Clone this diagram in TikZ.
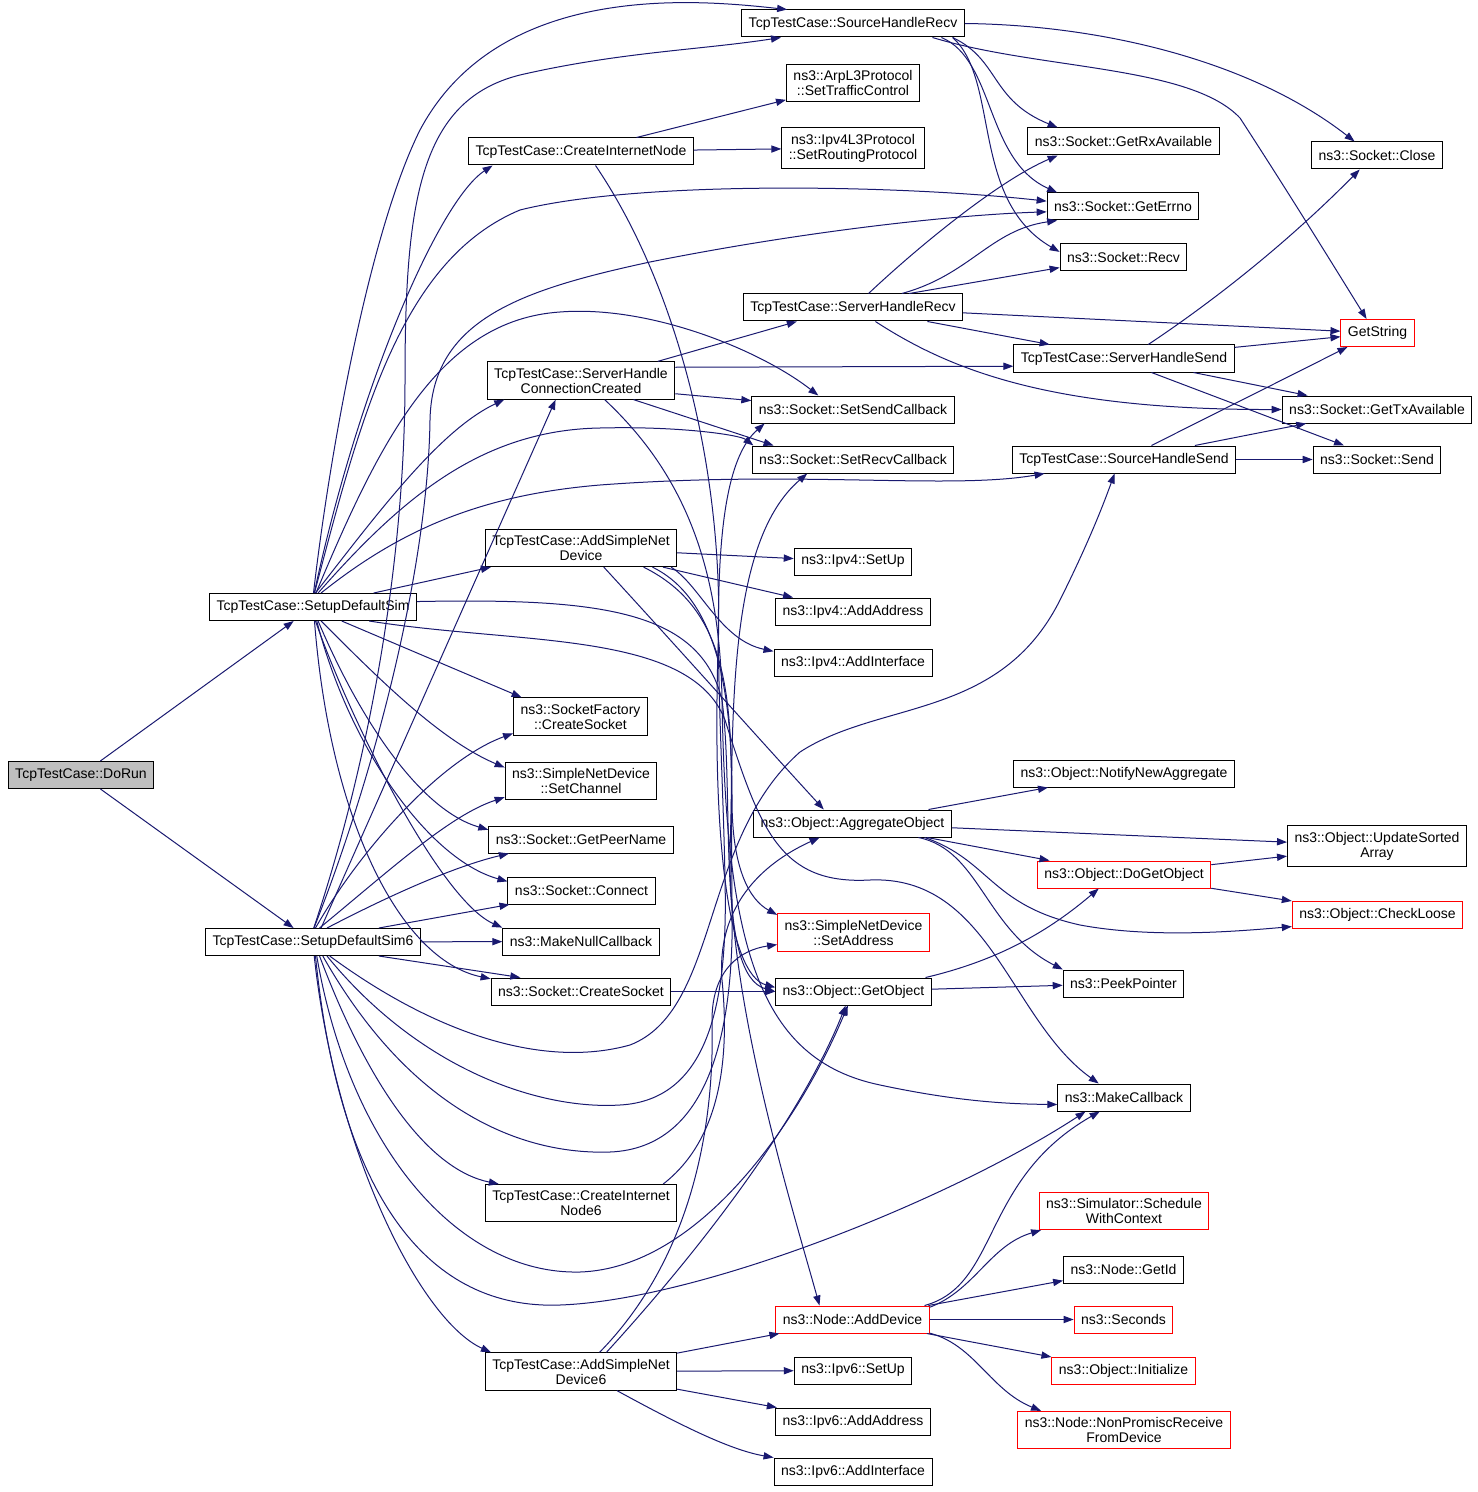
\documentclass[tikz,border=0pt]{standalone}
\usepackage{fontspec}
\setmainfont{Liberation Sans}
\usepackage{tikz}
\usetikzlibrary{arrows.meta}
\definecolor{edgeblue}{HTML}{191970}
\definecolor{rootgray}{HTML}{BFBFBF}
\newcommand{\fnsize}{\fontsize{7}{7.5}\selectfont}

\begin{document}
\begin{tikzpicture}[
        x=0.5pt, y=-0.5pt,
        % Styles
        fn/.style  ={rectangle, draw=black, line width=0.5pt, fill=white, align=center, inner xsep=3.5pt, inner ysep=3pt, minimum height=13.5pt, font=\fnsize},
        ext/.style ={fn, draw=red},
        root/.style={fn, fill=rootgray},
        call/.style={-{Triangle[length=5pt, width=3.6pt]}, draw=edgeblue, line width=0.5pt}
    ]
    \path[use as bounding box, fill=white] (0,0) rectangle (1477,1492);

    % Root and the two setups
    \node[root] (DoRun) at (81,775) {TcpTestCase::DoRun};
    \node[fn] (SetupSim) at (313,607) {TcpTestCase::SetupDefaultSim};
    \node[fn] (SetupSim6) at (313,942) {TcpTestCase::SetupDefaultSim6};

    % Second column
    \node[fn] (InetNode) at (581,151.5) {TcpTestCase::CreateInternetNode};
    \node[fn] (ConnCreated) at (581,380.5) {TcpTestCase::ServerHandle\\ConnectionCreated};
    \node[fn] (AddDev) at (581,548) {TcpTestCase::AddSimpleNet\\Device};
    \node[fn] (FactCreate) at (580.5,716.5) {ns3::SocketFactory\\::CreateSocket};
    \node[fn] (SetChan) at (581,781) {ns3::SimpleNetDevice\\::SetChannel};
    \node[fn] (PeerName) at (581,839.5) {ns3::Socket::GetPeerName};
    \node[fn] (SockConnect) at (581.5,890.5) {ns3::Socket::Connect};
    \node[fn] (NullCb) at (581,941.5) {ns3::MakeNullCallback};
    \node[fn] (SockCreate) at (581,991.5) {ns3::Socket::CreateSocket};
    \node[fn] (InetNode6) at (581,1203) {TcpTestCase::CreateInternet\\Node6};
    \node[fn] (AddDev6) at (581,1371.5) {TcpTestCase::AddSimpleNet\\Device6};

    % Third column
    \node[fn] (SrcRecv) at (853,23.5) {TcpTestCase::SourceHandleRecv};
    \node[fn] (ArpTc) at (853,83) {ns3::ArpL3Protocol\\::SetTrafficControl};
    \node[fn] (Ipv4Routing) at (853,148) {ns3::Ipv4L3Protocol\\::SetRoutingProtocol};
    \node[fn] (SrvRecv) at (853,307.5) {TcpTestCase::ServerHandleRecv};
    \node[fn] (SendCb) at (853,409.5) {ns3::Socket::SetSendCallback};
    \node[fn] (RecvCb) at (853,459.5) {ns3::Socket::SetRecvCallback};
    \node[fn] (Ipv4SetUp) at (853,561.5) {ns3::Ipv4::SetUp};
    \node[fn] (Ipv4Addr) at (853,611.5) {ns3::Ipv4::AddAddress};
    \node[fn] (Ipv4If) at (853,662.5) {ns3::Ipv4::AddInterface};
    \node[fn] (AggObj) at (852.5,823.5) {ns3::Object::AggregateObject};
    \node[ext] (SetAddr) at (853.5,932.5) {ns3::SimpleNetDevice\\::SetAddress};
    \node[fn] (GetObj) at (853.5,991.5) {ns3::Object::GetObject};
    \node[ext] (NodeAddDev) at (852.5,1319.5) {ns3::Node::AddDevice};
    \node[fn] (Ipv6SetUp) at (853,1370.5) {ns3::Ipv6::SetUp};
    \node[fn] (Ipv6Addr) at (853,1421.5) {ns3::Ipv6::AddAddress};
    \node[fn] (Ipv6If) at (853,1471.5) {ns3::Ipv6::AddInterface};

    % Fourth column
    \node[fn] (RxAvail) at (1123.5,141.5) {ns3::Socket::GetRxAvailable};
    \node[fn] (SockErrno) at (1123,206.5) {ns3::Socket::GetErrno};
    \node[fn] (SockRecv) at (1123.5,257.5) {ns3::Socket::Recv};
    \node[fn] (SrvSend) at (1124,358.5) {TcpTestCase::ServerHandleSend};
    \node[fn] (SrcSend) at (1124,459.5) {TcpTestCase::SourceHandleSend};
    \node[fn] (NotifyAgg) at (1124,773.5) {ns3::Object::NotifyNewAggregate};
    \node[ext] (DoGetObj) at (1124,874.5) {ns3::Object::DoGetObject};
    \node[fn] (PeekPtr) at (1123.5,983.5) {ns3::PeekPointer};
    \node[fn] (MakeCb) at (1124,1097.5) {ns3::MakeCallback};
    \node[ext] (SchedCtx) at (1124,1211) {ns3::Simulator::Schedule\\WithContext};
    \node[fn] (NodeId) at (1123.5,1269.5) {ns3::Node::GetId};
    \node[ext] (Secs) at (1123.5,1319.5) {ns3::Seconds};
    \node[ext] (ObjInit) at (1123.5,1370.5) {ns3::Object::Initialize};
    \node[ext] (NonPromisc) at (1124,1430) {ns3::Node::NonPromiscReceive\\FromDevice};

    % Last column
    \node[fn] (SockClose) at (1377,155.5) {ns3::Socket::Close};
    \node[ext] (GetStr) at (1377.5,333) {GetString};
    \node[fn] (TxAvail) at (1377,409.5) {ns3::Socket::GetTxAvailable};
    \node[fn] (SockSend) at (1377,459.5) {ns3::Socket::Send};
    \node[fn] (SortedArr) at (1377,846) {ns3::Object::UpdateSorted\\Array};
    \node[ext] (CheckLoose) at (1377.5,914.5) {ns3::Object::CheckLoose};

    % DoRun
    \draw[call] (DoRun) -- (SetupSim);
    \draw[call] (DoRun) -- (SetupSim6);

    % --- SETUP DEFAULT SIM ---
    \draw[call] (SetupSim.88) .. controls (330,450) and (370,230) .. (420,130) .. controls (500,-20) and (700,0) .. (SrcRecv.168);
    \draw[call] (SetupSim.85) .. controls (360,380) and (440,200) .. (InetNode.189);
    \draw[call] (SetupSim.84) .. controls (360,420) and (400,260) .. (520,210) .. controls (640,180) and (900,185) .. (SockErrno.176);
    \draw[call] (SetupSim.80) .. controls (380,510) and (440,430) .. (ConnCreated.194);
    \draw[call] (SetupSim.78) .. controls (380,440) and (440,320) .. (560,312) .. controls (650,305) and (760,350) .. (SendCb.158);
    \draw[call] (SetupSim.70) .. controls (400,500) and (480,430) .. (600,428) .. controls (680,426) and (740,435) .. (RecvCb.172);
    \draw[call] (SetupSim.60) .. controls (400,530) and (480,495) .. (600,485) .. controls (800,470) and (950,490) .. (SrcSend.190);
    \draw[call] (SetupSim.13) -- (AddDev.192);
    \draw[call] (SetupSim.-26) -- (FactCreate.162);
    \draw[call] (SetupSim.-60) .. controls (380,680) and (440,740) .. (SetChan.170);
    \draw[call] (SetupSim.-70) .. controls (360,720) and (420,810) .. (PeerName.174);
    \draw[call] (SetupSim.-75) .. controls (350,750) and (430,860) .. (SockConnect.173);
    \draw[call] (SetupSim.-80) .. controls (350,720) and (440,900) .. (NullCb.170);
    \draw[call] (SetupSim.-84) .. controls (330,820) and (400,960) .. (SockCreate.172);
    \draw[call] (SetupSim.3) .. controls (600,598) and (700,610) .. (722,700) .. controls (735,800) and (715,975) .. (GetObj.180);
    \draw[call] (SetupSim.-14) .. controls (520,645) and (690,630) .. (725,720) .. controls (760,830) and (780,885) .. (870,880) .. controls (990,875) and (1010,1020) .. (MakeCb.151);

    % --- SETUP DEFAULT SIM 6 ---
    \draw[call] (SetupSim6.87) .. controls (370,760) and (405,560) .. (405,380) .. controls (405,200) and (420,100) .. (520,75) .. controls (620,52) and (700,50) .. (SrcRecv.191);
    \draw[call] (SetupSim6.86) .. controls (380,760) and (428,560) .. (430,420) .. controls (432,320) and (520,290) .. (650,262) .. controls (800,232) and (950,215) .. (SockErrno.184);
    \draw[call] (SetupSim6.60) -- (ConnCreated.217);
    \draw[call] (SetupSim6.80) .. controls (360,850) and (440,760) .. (FactCreate.194);
    \draw[call] (SetupSim6.65) .. controls (390,870) and (450,815) .. (SetChan.192);
    \draw[call] (SetupSim6.45) .. controls (400,890) and (460,865) .. (PeerName.191);
    \draw[call] (SetupSim6.12) -- (SockConnect.191);
    \draw[call] (SetupSim6) -- (NullCb);
    \draw[call] (SetupSim6.-12) -- (SockCreate.167);
    \draw[call] (SetupSim6.-40) .. controls (430,1030) and (540,1070) .. (630,1045) .. controls (720,1010) and (700,840) .. (800,752) .. controls (880,700) and (1000,720) .. (1060,600) .. controls (1090,540) and (1105,500) .. (SrcSend.-124);
    \draw[call] (SetupSim6.-45) .. controls (420,1070) and (540,1110) .. (620,1105) .. controls (710,1100) and (728,1000) .. (725,880) .. controls (722,700) and (700,480) .. (SendCb.189);
    \draw[call] (SetupSim6.-55) .. controls (410,1110) and (520,1155) .. (610,1152) .. controls (710,1148) and (735,1030) .. (732,900) .. controls (730,700) and (730,540) .. (RecvCb.197);
    \draw[call] (SetupSim6.-65) .. controls (370,1090) and (430,1170) .. (InetNode6.167);
    \draw[call] (SetupSim6.-75) .. controls (350,1150) and (460,1275) .. (580,1272) .. controls (700,1268) and (800,1120) .. (GetObj.-112);
    \draw[call] (SetupSim6.-80) .. controls (340,1200) and (430,1310) .. (560,1305) .. controls (700,1300) and (950,1200) .. (MakeCb.-160);
    \draw[call] (SetupSim6.-85) .. controls (335,1150) and (420,1320) .. (AddDev6.168);

    % Create internet nodes
    \draw[call] (InetNode) -- (ArpTc);
    \draw[call] (InetNode) -- (Ipv4Routing);
    \draw[call] (InetNode.-44) .. controls (680,290) and (725,480) .. (718,650) .. controls (712,850) and (730,975) .. (GetObj.177);
    \draw[call] (InetNode6.13) .. controls (720,1140) and (730,1060) .. (722,980) .. controls (716,900) and (770,860) .. (AggObj.-157);

    % Connection created
    \draw[call] (ConnCreated.14) -- (SrvRecv.194);
    \draw[call] (ConnCreated.8) -- (SrvSend.184);
    \draw[call] (ConnCreated.-8) -- (SendCb.175);
    \draw[call] (ConnCreated.-20) -- (RecvCb.170);
    \draw[call] (ConnCreated.-39) .. controls (680,470) and (720,560) .. (722,700) .. controls (726,950) and (760,1060) .. (880,1085) .. controls (960,1102) and (1010,1104) .. (MakeCb.186);

    % Simple net devices
    \draw[call] (AddDev) -- (Ipv4SetUp);
    \draw[call] (AddDev) -- (Ipv4Addr);
    \draw[call] (AddDev.-12) .. controls (700,585) and (720,640) .. (Ipv4If.172);
    \draw[call] (AddDev.-40) .. controls (680,650) and (760,740) .. (AggObj.154);
    \draw[call] (AddDev.-15) .. controls (720,600) and (732,700) .. (732,800) .. controls (732,870) and (750,900) .. (SetAddr.167);
    \draw[call] (AddDev.-17) .. controls (730,610) and (735,700) .. (730,850) .. controls (728,1000) and (790,1200) .. (NodeAddDev.157);
    \draw[call] (AddDev6) -- (NodeAddDev);
    \draw[call] (AddDev6) -- (Ipv6SetUp);
    \draw[call] (AddDev6) -- (Ipv6Addr);
    \draw[call] (AddDev6.-28) .. controls (680,1425) and (730,1450) .. (Ipv6If.170);
    \draw[call] (AddDev6.37) .. controls (700,1250) and (800,1120) .. (GetObj.-119);
    \draw[call] (AddDev6.46) .. controls (690,1260) and (715,1130) .. (712,1020) .. controls (712,970) and (740,950) .. (SetAddr.189);

    % Socket handlers
    \draw[call] (SrcRecv.east) .. controls (1100,25) and (1250,60) .. (SockClose.148);
    \draw[call] (SrcRecv.-10) .. controls (1040,70) and (1190,65) .. (1240,118) .. controls (1290,195) and (1330,260) .. (GetStr.128);
    \draw[call] (SrcRecv.-8) .. controls (1000,60) and (990,100) .. (RxAvail.168);
    \draw[call] (SrcRecv.-9) .. controls (995,60) and (985,160) .. (SockErrno.168);
    \draw[call] (SrcRecv.-8.5) .. controls (1000,80) and (970,200) .. (SockRecv.175);
    \draw[call] (SrvRecv.42) .. controls (920,245) and (1000,180) .. (RxAvail.192);
    \draw[call] (SrvRecv.16) .. controls (970,275) and (990,230) .. (SockErrno.192);
    \draw[call] (SrvRecv.14) -- (SockRecv.189);
    \draw[call] (SrvRecv) -- (GetStr);
    \draw[call] (SrvRecv) -- (SrvSend);
    \draw[call] (SrvRecv.-32) .. controls (950,370) and (1050,410) .. (TxAvail.west);
    \draw[call] (SrvSend.30) .. controls (1230,290) and (1300,230) .. (SockClose.-141);
    \draw[call] (SrvSend) -- (GetStr);
    \draw[call] (SrvSend) -- (TxAvail);
    \draw[call] (SrvSend.-27) -- (SockSend.157);
    \draw[call] (SrcSend.27) -- (GetStr.-155);
    \draw[call] (SrcSend) -- (TxAvail);
    \draw[call] (SrcSend) -- (SockSend);

    % Object internals
    \draw[call] (AggObj) -- (NotifyAgg);
    \draw[call] (AggObj) -- (SortedArr);
    \draw[call] (AggObj) -- (DoGetObj);
    \draw[call] (AggObj.-11) .. controls (990,860) and (990,905) .. (1080,925) .. controls (1150,938) and (1230,932) .. (CheckLoose.188);
    \draw[call] (AggObj.-12) .. controls (980,850) and (985,930) .. (PeekPtr.167);
    \draw[call] (DoGetObj) -- (SortedArr);
    \draw[call] (DoGetObj) -- (CheckLoose);
    \draw[call] (GetObj.11) .. controls (1000,960) and (1050,930) .. (DoGetObj.-151);
    \draw[call] (GetObj) -- (PeekPtr);
    \draw[call] (SockCreate) -- (GetObj);

    % Node::AddDevice
    \draw[call] (NodeAddDev.11) .. controls (1000,1285) and (980,1180) .. (MakeCb.-150);
    \draw[call] (NodeAddDev.9) .. controls (975,1290) and (990,1245) .. (SchedCtx.193);
    \draw[call] (NodeAddDev) -- (NodeId);
    \draw[call] (NodeAddDev) -- (Secs);
    \draw[call] (NodeAddDev) -- (ObjInit);
    \draw[call] (NodeAddDev.-10) .. controls (975,1345) and (990,1390) .. (NonPromisc.167);

\end{tikzpicture}
\end{document}
